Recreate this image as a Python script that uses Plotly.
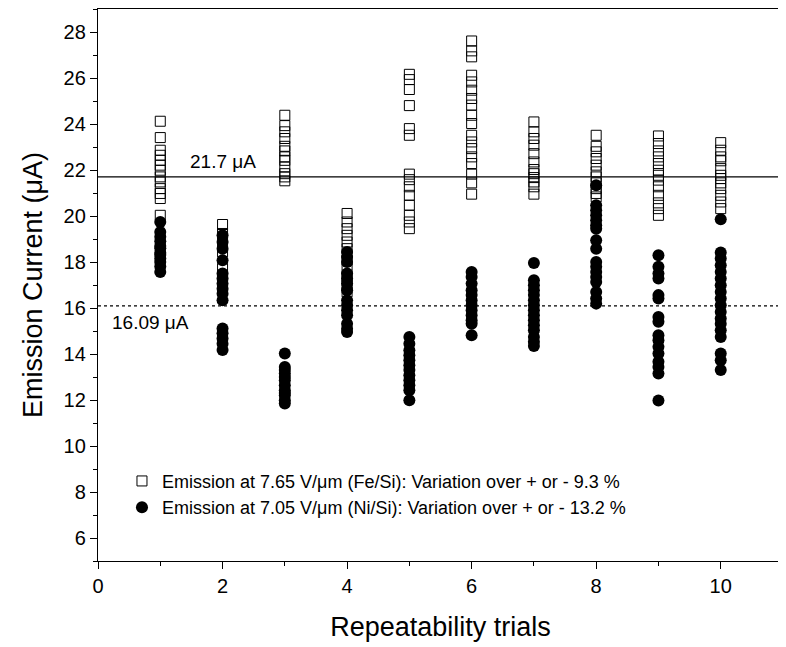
import plotly.graph_objects as go

# Repeatability trials (x) and emission currents (uA)
trials = [1, 2, 3, 4, 5, 6, 7, 8, 9, 10]

fe_si = [
    [24.12, 23.41, 22.86, 22.64, 22.42, 22.21, 21.99, 21.7, 21.48, 21.19, 20.98, 20.76, 20.03],
    [19.63, 19.24, 18.87, 18.44, 17.72, 17.35, 16.77],
    [24.38, 23.93, 23.66, 23.37, 23.03, 22.83, 22.57, 22.42, 22.13, 21.84, 21.7, 21.53],
    [20.11, 19.74, 19.45, 19.16, 18.87, 18.58, 18.08, 17.72, 17.35, 16.99, 16.7],
    [26.16, 25.93, 25.5, 24.8, 23.8, 23.51, 21.82, 21.58, 21.27, 20.9, 20.47, 20.03, 19.74, 19.45],
    [27.61, 27.18, 26.92, 26.12, 25.83, 25.47, 25.11, 24.82, 24.38, 24.02, 23.51, 23.22,
     22.93, 22.57, 22.28, 21.82, 21.44, 20.95],
    [24.09, 23.66, 23.37, 23.08, 22.71, 22.35, 22.02, 21.84, 21.67, 21.48, 21.27, 20.95],
    [23.51, 23.03, 22.79, 22.5, 22.21, 21.92, 21.7, 21.44, 21.19, 20.98, 20.83],
    [23.48, 23.15, 22.83, 22.57, 22.28, 21.99, 21.77, 21.56, 21.27, 20.9, 20.57, 20.32, 20.03],
    [23.19, 22.86, 22.57, 22.4, 22.06, 21.77, 21.63, 21.44, 21.19, 20.9, 20.61, 20.32],
]

ni_si = [
    [19.74, 19.3, 19.1, 18.9, 18.7, 18.6, 18.4, 18.3, 18.15, 18.0, 17.8, 17.57],
    [19.16, 18.87, 18.58, 18.08, 17.5, 17.28, 17.06, 16.84, 16.62, 16.34,
     15.11, 14.9, 14.67, 14.45, 14.17],
    [14.02, 13.44, 13.3, 13.15, 13.0, 12.86, 12.64, 12.42, 12.3, 12.2, 11.99, 11.85],
    [18.44, 18.22, 18.0, 17.5, 17.28, 17.06, 16.77, 16.34, 16.12, 15.9, 15.69, 15.32, 15.1, 14.96],
    [14.74, 14.45, 14.16, 13.95, 13.73, 13.51, 13.3, 13.08, 12.86, 12.64, 12.42, 11.99],
    [17.57, 17.35, 17.06, 16.77, 16.56, 16.34, 16.12, 15.9, 15.69, 15.47, 15.32, 14.82],
    [17.96, 17.21, 16.99, 16.77, 16.56, 16.34, 16.12, 15.9, 15.69, 15.47, 15.25, 15.03,
     14.74, 14.53, 14.35],
    [21.34, 20.47, 20.25, 20.03, 19.82, 19.6, 19.45, 18.95, 18.58, 18.0, 17.79, 17.57,
     17.35, 17.13, 16.7, 16.41, 16.19],
    [18.29, 17.79, 17.5, 17.28, 16.56, 16.41, 15.61, 15.4, 14.82, 14.6, 14.31, 14.02,
     13.66, 13.44, 13.15, 11.98],
    [19.86, 18.41, 18.15, 17.86, 17.57, 17.28, 16.99, 16.7, 16.41, 16.12, 15.83, 15.54,
     15.32, 15.03, 14.74, 14.02, 13.73, 13.3],
]

fe_mean = 21.7
ni_mean = 16.09

fe_name = "Emission at 7.65 V/\u03bcm (Fe/Si): Variation over + or - 9.3 %"
ni_name = "Emission at 7.05 V/\u03bcm (Ni/Si): Variation over + or - 13.2 %"

FONT = "Liberation Sans, Arial, sans-serif"


def flatten(groups):
    xs, ys = [], []
    for t, vals in zip(trials, groups):
        xs += [t] * len(vals)
        ys += vals
    return xs, ys


fx, fy = flatten(fe_si)
nx, ny = flatten(ni_si)

fig = go.Figure()
fig.add_trace(go.Scatter(
    x=fx, y=fy, mode="markers", name=fe_name,
    marker=dict(symbol="square-open", size=10, color="black", line=dict(width=1)),
))
fig.add_trace(go.Scatter(
    x=nx, y=ny, mode="markers", name=ni_name,
    marker=dict(symbol="circle", size=12, color="black"),
))

fig.add_hline(y=fe_mean, line=dict(color="black", width=1.3))
fig.add_hline(y=ni_mean, line=dict(color="black", width=1.3, dash="dot"))

fig.add_annotation(x=1.44, y=fe_mean, yshift=15, text="21.7 \u03bcA", showarrow=False,
                   xanchor="left", font=dict(size=19, color="black", family=FONT))
fig.add_annotation(x=0.19, y=ni_mean, yshift=-17, text="16.09 \u03bcA", showarrow=False,
                   xanchor="left", font=dict(size=19, color="black", family=FONT))

axis_common = dict(
    showgrid=False, zeroline=False, showline=True, linecolor="black", linewidth=1.3,
    mirror=True, ticks="outside", ticklen=7, tickwidth=1.3, tickcolor="black",
    tickfont=dict(size=20, family=FONT, color="black"),
    title_font=dict(size=27, family=FONT, color="black"),
    minor=dict(dtick=1, ticks="outside", ticklen=4, tickwidth=1.3, tickcolor="black"),
)

# page body adds an 8px margin, so the figure is 778x639 inside the 786x647 window
fig.update_layout(
    width=778, height=639,
    margin=dict(l=90, r=3, t=1, b=86),
    plot_bgcolor="white", paper_bgcolor="white",
    font=dict(family=FONT, color="black"),
    xaxis=dict(axis_common, range=[0, 11], tick0=0, dtick=2,
               title=dict(text="Repeatability trials", standoff=20)),
    yaxis=dict(axis_common, range=[5, 29], tick0=0, dtick=2,
               title=dict(text="Emission Current (\u03bcA)", standoff=13)),
    legend=dict(x=0.035, y=0.178, xanchor="left", yanchor="top",
                bgcolor="rgba(0,0,0,0)", font=dict(size=18, family=FONT, color="black"),
                tracegroupgap=0, itemwidth=30),
    showlegend=True,
)

fig.write_html("out.html")
